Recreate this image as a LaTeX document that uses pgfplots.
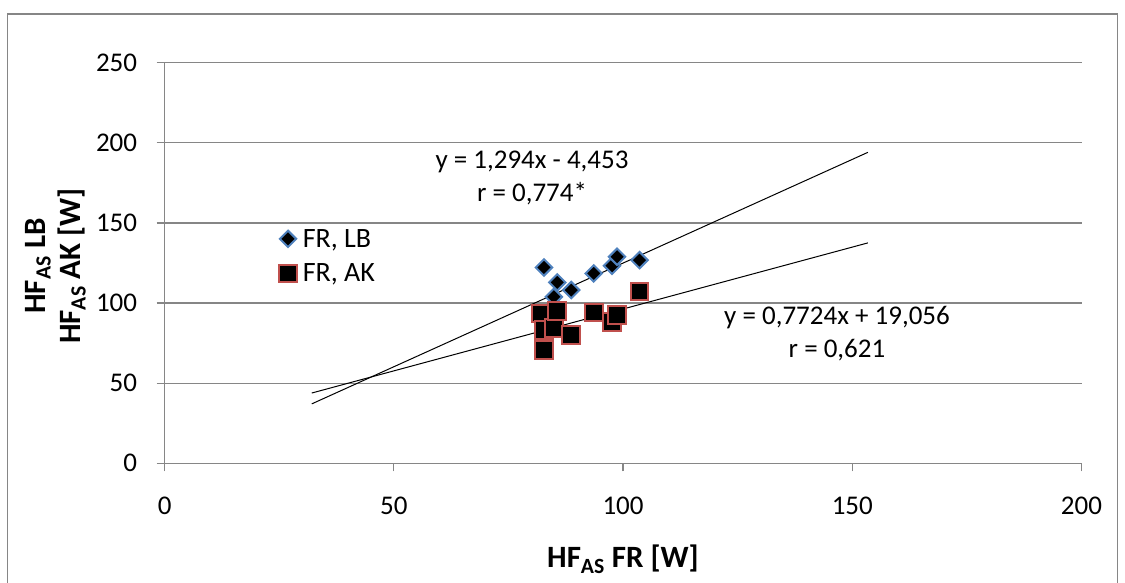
\documentclass[border=0pt]{standalone}
\usepackage{pgfplots}
\pgfplotsset{compat=1.18}
\usepackage{fontspec}
\setmainfont{Carlito}
\definecolor{gridc}{HTML}{868686}
\definecolor{lbblue}{HTML}{4F81BD}
\definecolor{akred}{HTML}{C0504D}
\begin{document}
\begin{tikzpicture}[x=1pt,y=1pt]
\useasboundingbox (0,0) rectangle (1125,583);
\draw[gridc, line width=1.2pt] (7.5,-5) rectangle (1117.5,569);
\begin{axis}[
  at={(164.6pt,119.7pt)}, anchor=south west, scale only axis,
  width=916.9pt, height=400.6pt,
  xmin=0, xmax=200, ymin=0, ymax=250,
  xtick={0,50,...,200}, ytick={0,50,...,250},
  axis lines*=left,
  axis line style={gridc, line width=1.2pt},
  tick style={gridc, line width=1.2pt},
  tick align=outside, major tick length=8pt,
  ymajorgrids, grid style={gridc, line width=1.2pt},
  tick label style={font=\fontsize{27}{30}\selectfont, text=black},
  /pgf/number format/assume math mode=true,
  xticklabel style={yshift=-22pt},
  yticklabel style={xshift=-16pt},
  legend style={at={(0.1215,0.595)}, anchor=north west, draw=none, fill=none,
     font=\fontsize{28}{32}\selectfont, row sep=11pt},
  legend cell align=left,
  clip=false,
]
\addplot[only marks, mark=square*, mark size=5.8pt,
  mark options={rotate=45, fill=black, draw=lbblue, line width=2pt}]
  table {
x y
82.0 90.0
82.75 122.2
82.75 86.0
84.9 103.9
85.65 112.9
88.7 108.1
93.6 118.5
97.6 123.3
98.7 128.9
103.6 126.8
};
\addlegendentry{\hspace*{4pt}FR, LB}
\addplot[only marks, mark=square*, mark size=8.8pt,
  mark options={fill=black, draw=akred, line width=2pt}]
  table {
x y
82.0 93.6
82.75 83.2
82.75 70.7
84.9 84.6
85.65 95.2
88.7 80.0
93.6 94.0
97.6 88.0
98.7 92.5
103.6 107.1
};
\addlegendentry{\hspace*{4pt}FR, AK}
\addplot[black, line width=1pt, forget plot] coordinates {(32.1,37.08) (153.4,194.05)};
\addplot[black, line width=1pt, forget plot] coordinates {(32.1,43.85) (153.4,137.54)};
\end{axis}
\node[font=\fontsize{27}{30}\selectfont] at (532,421) {y = 1,294x - 4,453};
\node[font=\fontsize{27}{30}\selectfont] at (532,389) {r = 0,774*};
\node[font=\fontsize{27}{30}\selectfont] at (837,265) {y = 0,7724x + 19,056};
\node[font=\fontsize{27}{30}\selectfont] at (837,233) {r = 0,621};
\node[font=\bfseries\fontsize{31}{36}\selectfont, anchor=base] at (623,15) {HF\textsubscript{AS} FR [W]};
\node[font=\bfseries\fontsize{31}{36}\selectfont, rotate=90, anchor=base] at (45,317) {HF\textsubscript{AS} LB};
\node[font=\bfseries\fontsize{31}{36}\selectfont, rotate=90, anchor=base] at (80,317) {HF\textsubscript{AS} AK [W]};
\end{tikzpicture}
\end{document}
